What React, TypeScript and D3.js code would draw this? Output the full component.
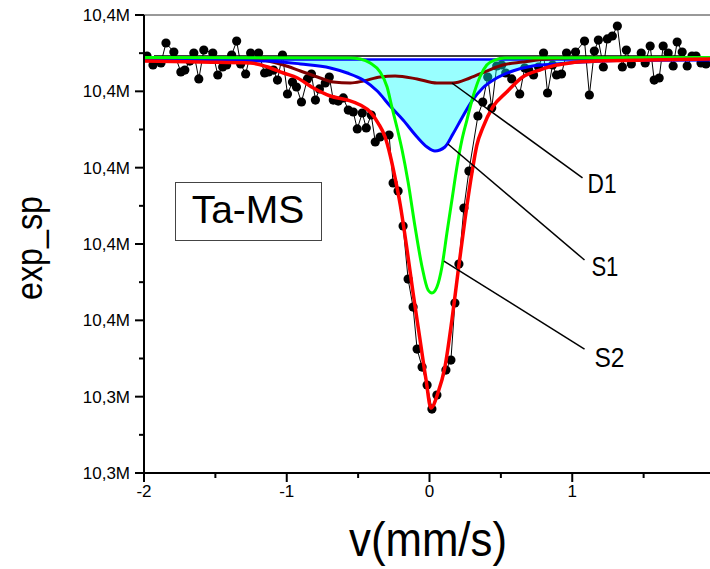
import React from "react";
import * as d3 from "d3";

// ---------- data (velocity mm/s, counts in thousands) ----------
const velocity = [
  -1.979, -1.937, -1.881, -1.846, -1.791, -1.742, -1.714, -1.679, -1.651, -1.616,
  -1.581, -1.518, -1.483, -1.449, -1.421, -1.386, -1.351, -1.323, -1.288, -1.253,
  -1.197, -1.155, -1.127, -1.093, -1.065, -1.03, -0.995, -0.96, -0.932, -0.897,
  -0.855, -0.827, -0.799, -0.771, -0.73, -0.702, -0.674, -0.639, -0.604, -0.569,
  -0.534, -0.506, -0.471, -0.443, -0.408, -0.38, -0.346, -0.283, -0.255, -0.22,
  -0.185, -0.15, -0.115, -0.087, -0.052, -0.017, 0.017, 0.052, 0.115, 0.15,
  0.178, 0.206, 0.241, 0.276, 0.339, 0.373, 0.408, 0.436, 0.471, 0.506,
  0.534, 0.576, 0.632, 0.667, 0.695, 0.729, 0.764, 0.799, 0.827, 0.862,
  0.89, 0.925, 0.96, 1.023, 1.086, 1.12, 1.155, 1.183, 1.218, 1.246,
  1.281, 1.316, 1.351, 1.379, 1.414, 1.483, 1.511, 1.546, 1.574, 1.609,
  1.637, 1.672, 1.707, 1.735, 1.77, 1.805, 1.839, 1.867, 1.902, 1.937,
];
const counts = [
  10386.63, 10385.45, 10385.71, 10388.33, 10387.15, 10384.53, 10384.79, 10385.97, 10387.02, 10383.62,
  10387.41, 10387.02, 10384.14, 10385.19, 10385.45, 10386.76, 10388.59, 10385.58, 10384.27, 10387.02,
  10387.02, 10384.4, 10384.53, 10384.79, 10383.48, 10386.76, 10381.65, 10383.22, 10382.57, 10380.6,
  10383.62, 10384.27, 10380.86, 10382.31, 10383.09, 10383.88, 10380.86, 10380.73, 10381.13, 10379.55,
  10379.29, 10377.07, 10379.16, 10377.2, 10378.9, 10375.36, 10376.02, 10376.28, 10369.99, 10368.94,
  10364.36, 10357.41, 10353.74, 10348.24, 10345.88, 10343.53, 10340.38, 10342.22, 10345.49, 10346.8,
  10354.27, 10359.38, 10366.71, 10371.56, 10378.77, 10380.6, 10383.88, 10379.82, 10385.32, 10385.45,
  10384.4, 10383.62, 10381.65, 10385.06, 10384.79, 10384.14, 10385.19, 10387.02, 10381.78, 10385.45,
  10384.14, 10384.27, 10387.02, 10387.15, 10388.59, 10381.52, 10387.28, 10388.72, 10385.19, 10388.86,
  10389.25, 10390.56, 10385.19, 10387.41, 10385.58, 10387.02, 10385.71, 10387.94, 10383.48, 10383.75,
  10387.94, 10387.02, 10385.32, 10388.46, 10387.15, 10385.32, 10386.63, 10386.63, 10385.71, 10385.58,
];

// fitted envelope (red)
const fitV = [-2, -1.602, -1.253, -1.134, -1.023, -0.925, -0.813, -0.695, -0.576, -0.485, -0.415, -0.36, -0.311, -0.276, -0.241, -0.206, -0.157, -0.115, -0.066, -0.024, 0.01, 0.059, 0.108, 0.157, 0.199, 0.248, 0.297, 0.332, 0.373, 0.443, 0.541, 0.653, 0.771, 0.89, 0.981, 1.19, 1.539, 2.0];
const fitC = [10385.97, 10385.84, 10385.71, 10385.19, 10384.4, 10383.75, 10382.44, 10381.39, 10380.86, 10380.21, 10379.29, 10377.85, 10376.02, 10373.66, 10370.65, 10367.24, 10361.21, 10355.58, 10349.42, 10344.18, 10340.51, 10342.48, 10345.88, 10352.04, 10358.2, 10365.14, 10371.3, 10374.97, 10377.2, 10379.95, 10381.91, 10383.88, 10384.79, 10385.45, 10385.71, 10385.97, 10386.1, 10386.24];

// S2 (green)
const s2V = [-2, -0.555, -0.485, -0.415, -0.346, -0.297, -0.262, -0.227, -0.192, -0.15, -0.101, -0.052, -0.01, 0.017, 0.052, 0.087, 0.122, 0.157, 0.192, 0.227, 0.262, 0.304, 0.353, 0.401, 0.457, 0.527, 2.0];
const s2C = [10386.43, 10386.37, 10386.24, 10385.71, 10384.53, 10382.57, 10379.82, 10377.2, 10374.31, 10370.12, 10364.23, 10358.99, 10355.97, 10355.58, 10356.37, 10358.99, 10363.44, 10367.76, 10372.09, 10375.62, 10378.24, 10381.26, 10383.88, 10385.45, 10386.1, 10386.37, 10386.43];

// S1 (blue, filled)
const s1V = [-2, -1.134, -0.904, -0.695, -0.576, -0.464, -0.366, -0.276, -0.185, -0.087, -0.017, 0.038, 0.108, 0.164, 0.227, 0.297, 0.373, 0.471, 0.583, 0.723, 0.89, 1.072, 1.309, 2.0];
const s1C = [10386.17, 10385.97, 10385.58, 10385.06, 10384.4, 10383.48, 10382.04, 10380.08, 10378.24, 10376.02, 10374.71, 10374.18, 10374.71, 10376.41, 10378.51, 10380.73, 10382.44, 10383.75, 10384.66, 10385.32, 10385.58, 10385.84, 10386.04, 10386.1];
const s1Base = 10386.17;

// D1 (dark red doublet)
const d1V = [-2, -1.232, -1.023, -0.904, -0.785, -0.674, -0.555, -0.464, -0.346, -0.241, -0.087, 0.052, 0.164, 0.283, 0.401, 0.513, 0.653, 0.792, 0.96, 2.0];
const d1C = [10386.43, 10386.24, 10385.45, 10384.66, 10383.88, 10383.22, 10383.09, 10383.35, 10383.88, 10384.01, 10383.62, 10383.09, 10383.09, 10383.75, 10384.66, 10385.45, 10385.84, 10386.17, 10386.37, 10386.43];

// black baseline
const baseV = [-1.93, 1.749];
const baseC = 10386.63;

// axes
const xTicks = [-2, -1, 0, 1, 2];
const xTickLabels = ["-2", "-1", "0", "1", "2"];
const xMinor = [-1.5, -0.5, 0.5, 1.5];
const yTicks = [10332, 10342, 10352, 10362, 10372, 10382, 10392];
const yTickLabels = ["10,3M", "10,3M", "10,4M", "10,4M", "10,4M", "10,4M", "10,4M"];
const yMinor = [10337, 10347, 10357, 10367, 10377, 10387];

// annotations: [name, anchorV, anchorC, endV, endC, textV, textC]
const annNames = ["D1", "S1", "S2"];
const annAnchorV = [0.157, 0.129, 0.101];
const annAnchorC = [10383.09, 10375.1, 10359.77];
const annEndV = [1.072, 1.086, 1.086];
const annEndC = [10370.65, 10359.9, 10348.24];
const annTextV = [1.107, 1.134, 1.155];
const annTextC = [10368.68, 10357.81, 10345.88];
const annTextLen = [29, 27, 30];

const W = 710;
const H = 569;
const FONT = "Arial, 'Liberation Sans', sans-serif";

export default function App() {
  const x = d3.scaleLinear().domain([-2, 2]).range([144, 715]);
  const y = d3.scaleLinear().domain([10332, 10392]).range([473, 15]);

  const pts = (vs: number[], cs: number[]) => vs.map((v, i) => [v, cs[i]] as [number, number]);
  const line = d3
    .line<[number, number]>()
    .x((d) => x(d[0]))
    .y((d) => y(d[1]))
    .curve(d3.curveMonotoneX);
  const straight = d3
    .line<[number, number]>()
    .x((d) => x(d[0]))
    .y((d) => y(d[1]));
  const area = d3
    .area<[number, number]>()
    .x((d) => x(d[0]))
    .y0(() => y(s1Base))
    .y1((d) => y(d[1]))
    .curve(d3.curveMonotoneX);

  const data = pts(velocity, counts);

  return (
    <svg
      width={W}
      height={H}
      style={{ position: "absolute", left: 0, top: 0, background: "#fff" }}
      fontFamily={FONT}
    >
      <defs>
        <clipPath id="plot">
          <rect x={144} y={15} width={571} height={458} />
        </clipPath>
      </defs>
      {/* top frame */}
      <line x1={144} x2={W} y1={15} y2={15} stroke="#333" strokeWidth={1} />

      <g clipPath="url(#plot)">
        {/* data line + points */}
        <path d={straight(data) || ""} fill="none" stroke="#000" strokeWidth={1} />
        {data.map((d, i) => (
          <circle key={i} cx={x(d[0])} cy={y(d[1])} r={4.6} fill="#000" />
        ))}
        {/* S1 fill */}
        <path d={area(pts(s1V, s1C)) || ""} fill="#00ffff" fillOpacity={0.4} stroke="none" />
        <line x1={x(-2)} x2={x(2)} y1={y(s1Base)} y2={y(s1Base)} stroke="#0000ff" strokeWidth={2.5} />
        {/* baseline */}
        <path d={straight(pts(baseV, [baseC, baseC])) || ""} stroke="#000" strokeWidth={1.5} fill="none" />
        {/* components */}
        <path d={line(pts(d1V, d1C)) || ""} fill="none" stroke="#800000" strokeWidth={3} />
        <path d={line(pts(s1V, s1C)) || ""} fill="none" stroke="#0000ff" strokeWidth={3} />
        <path d={line(pts(s2V, s2C)) || ""} fill="none" stroke="#00ff00" strokeWidth={3} />
        <path d={line(pts(fitV, fitC)) || ""} fill="none" stroke="#ff0000" strokeWidth={3.5} />
      </g>

      {/* annotations */}
      {annNames.map((n, i) => (
        <g key={n}>
          <line
            x1={x(annAnchorV[i])}
            y1={y(annAnchorC[i])}
            x2={x(annEndV[i])}
            y2={y(annEndC[i])}
            stroke="#000"
            strokeWidth={1.5}
          />
          <text
            x={x(annTextV[i])}
            y={y(annTextC[i])}
            fontSize={28}
            textLength={annTextLen[i]}
            lengthAdjust="spacingAndGlyphs"
            fill="#000"
          >
            {n}
          </text>
        </g>
      ))}

      {/* Ta-MS label box */}
      <rect x={175.5} y={182.5} width={146} height={58} fill="#fff" stroke="#444" strokeWidth={1} />
      <text x={248} y={223} fontSize={39} textAnchor="middle" fill="#000">
        Ta-MS
      </text>

      {/* y axis */}
      <line x1={144} x2={144} y1={15} y2={474} stroke="#000" strokeWidth={2} />
      {yTicks.map((t, i) => (
        <g key={"y" + i}>
          <line x1={135} x2={144} y1={y(t)} y2={y(t)} stroke="#000" strokeWidth={2} />
          <text x={130} y={y(t)} dy="0.36em" fontSize={17} textAnchor="end" fill="#000">
            {yTickLabels[i]}
          </text>
        </g>
      ))}
      {yMinor.map((t, i) => (
        <line key={"ym" + i} x1={139} x2={144} y1={y(t)} y2={y(t)} stroke="#000" strokeWidth={2} />
      ))}

      {/* x axis */}
      <line x1={143} x2={W} y1={473} y2={473} stroke="#000" strokeWidth={2} />
      {xTicks.map((t, i) => (
        <g key={"x" + i}>
          <line x1={x(t)} x2={x(t)} y1={473} y2={482} stroke="#000" strokeWidth={2} />
          <text x={x(t)} y={497} fontSize={17} textAnchor="middle" fill="#000">
            {xTickLabels[i]}
          </text>
        </g>
      ))}
      {xMinor.map((t, i) => (
        <line key={"xm" + i} x1={x(t)} x2={x(t)} y1={473} y2={478} stroke="#000" strokeWidth={2} />
      ))}

      {/* axis titles */}
      <text
        x={428}
        y={556}
        fontSize={48}
        textAnchor="middle"
        textLength={158}
        lengthAdjust="spacingAndGlyphs"
        fill="#000"
      >
        v(mm/s)
      </text>
      <text
        transform="translate(42,248) rotate(-90)"
        fontSize={36}
        textAnchor="middle"
        textLength={104}
        lengthAdjust="spacingAndGlyphs"
        fill="#000"
      >
        exp_sp
      </text>
    </svg>
  );
}
